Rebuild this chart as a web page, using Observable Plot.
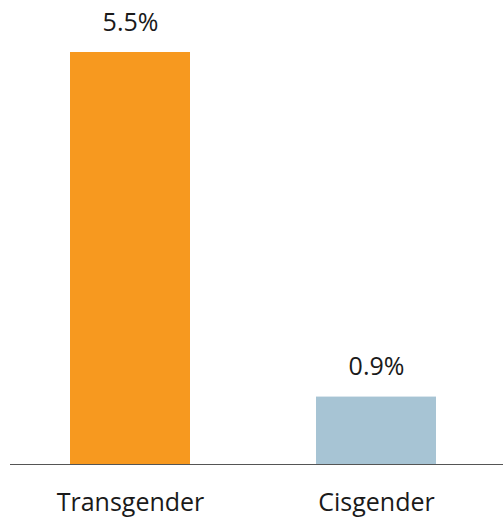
<!DOCTYPE html>
<html>
<head>
<meta charset="utf-8">
<script src="https://cdn.jsdelivr.net/npm/d3@7"></script>
<script src="https://cdn.jsdelivr.net/npm/@observablehq/plot@0.6"></script>
<style>
  html, body { margin: 0; padding: 0; background: #fff; }
  #chart svg { display: block; }
</style>
</head>
<body>
<div id="chart"></div>
<script>
const categories = ["Transgender", "Cisgender"];
const values = [5.5, 0.9];
const valueLabels = ["5.5%", "0.9%"];
const colors = ["#F7991F", "#A7C4D4"];

const data = categories.map((c, i) => ({category: c, value: values[i], label: valueLabels[i], color: colors[i]}));

const chart = Plot.plot({
  width: 503,
  height: 518,
  marginTop: 52,
  marginBottom: 54,
  marginLeft: 10,
  marginRight: 0,
  style: {fontFamily: "'Open Sans', sans-serif", background: "#fff", color: "#1a1a1a"},
  x: {domain: categories, paddingInner: 0.514, paddingOuter: 0.255, align: 0.468, label: null},
  y: {domain: [0, 5.5], axis: null},
  marks: [
    Plot.barY(data, {x: "category", y: "value", fill: "color"}),
    Plot.text(data, {x: "category", y: "value", text: "label", lineAnchor: "bottom", dy: -22, fontSize: 25, fill: "#1a1a1a"}),
    Plot.ruleY([0], {stroke: "#555", strokeWidth: 1}),
    Plot.axisX({tickSize: 0, tickPadding: 29, fontSize: 25, label: null, fill: "#1a1a1a"})
  ]
});
document.getElementById("chart").appendChild(chart);
</script>
</body>
</html>
